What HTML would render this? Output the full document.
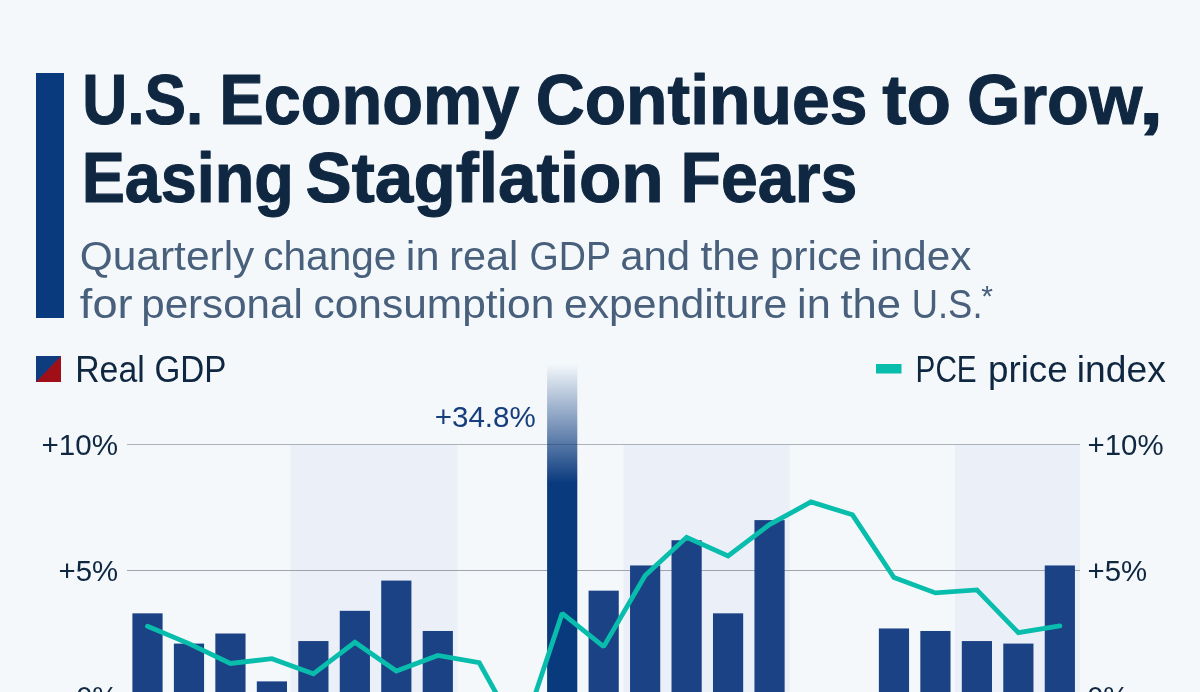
<!DOCTYPE html>
<html lang="en">
<head>
<meta charset="utf-8">
<title>U.S. Economy Continues to Grow, Easing Stagflation Fears</title>
<style>
html,body{margin:0;padding:0;background:#f4f8fb;}
body{width:1200px;height:692px;overflow:hidden;position:relative;font-family:"Liberation Sans",sans-serif;}
svg{position:absolute;left:0;top:0;display:block;}
text{font-family:"Liberation Sans",sans-serif;}
.t{font-weight:bold;font-size:71.2px;fill:#0f2741;stroke:#0f2741;stroke-width:1.1px;stroke-linejoin:round;}
.s{font-size:41.4px;fill:#48607c;}
.l{font-size:36.4px;fill:#0f2741;}
.a{font-size:30.0px;fill:#0f2741;}
.v{font-size:30.0px;fill:#163e7d;}
</style>
</head>
<body>
<svg width="1200" height="692" viewBox="0 0 1200 692">
<defs>
<linearGradient id="tall" gradientUnits="userSpaceOnUse" x1="0" y1="364" x2="0" y2="483">
<stop offset="0" stop-color="#0a3a7e" stop-opacity="0"/>
<stop offset="1" stop-color="#0a3a7e" stop-opacity="1"/>
</linearGradient>
</defs>
<rect x="0" y="0" width="1200" height="692" fill="#f4f8fb"/>
<!-- header accent bar -->
<rect x="36" y="73" width="28" height="245" fill="#0a3a7e"/>
<!-- bands -->
<rect x="290.5" y="444" width="167" height="260" fill="#ebf0f8"/>
<rect x="623.5" y="444" width="166.3" height="260" fill="#ebf0f8"/>
<rect x="955" y="444" width="125" height="260" fill="#ebf0f8"/>
<!-- grid -->
<rect x="127" y="444" width="953" height="1" fill="#adb2b9"/>
<rect x="127" y="570" width="953" height="1" fill="#9fa4ac"/>
<!-- legend swatches -->
<rect x="36" y="356" width="25" height="26" fill="#0f3c7f"/>
<polygon points="61,356 61,382 36,382" fill="#a00f17"/>
<rect x="876" y="364" width="25.5" height="9.5" fill="#08bdab"/>
<!-- text -->
<text class="t" transform="translate(82.28 123.8) scale(0.8743 1)">U.S.</text>
<text class="t" transform="translate(219.30 123.8) scale(0.9366 1)">Economy</text>
<text class="t" transform="translate(535.64 123.8) scale(0.9532 1)">Continues</text>
<text class="t" transform="translate(882.23 123.8) scale(1.0235 1)">to</text>
<text class="t" transform="translate(967.11 123.8) scale(0.9631 1)">Grow</text>
<text class="t" transform="translate(1138.75 123.8) scale(1.2500 1)">,</text>
<text class="t" transform="translate(81.68 201.7) scale(0.9085 1)">Easing</text>
<text class="t" transform="translate(305.55 201.7) scale(0.9737 1)">Stagflation</text>
<text class="t" transform="translate(680.58 201.7) scale(0.9300 1)">Fears</text>
<text class="s" transform="translate(79.65 270.0) scale(1.0262 1)">Quarterly</text>
<text class="s" transform="translate(263.29 270.0) scale(0.9800 1)">change</text>
<text class="s" transform="translate(405.87 270.0) scale(1.0467 1)">in</text>
<text class="s" transform="translate(449.25 270.0) scale(1.0000 1)">real</text>
<text class="s" transform="translate(529.58 270.0) scale(0.9076 1)">GDP</text>
<text class="s" transform="translate(620.23 270.0) scale(1.0116 1)">and</text>
<text class="s" transform="translate(700.48 270.0) scale(1.0318 1)">the</text>
<text class="s" transform="translate(769.67 270.0) scale(1.0294 1)">price</text>
<text class="s" transform="translate(870.45 270.0) scale(1.0183 1)">index</text>
<text class="s" transform="translate(79.85 318.0) scale(1.0915 1)">for</text>
<text class="s" transform="translate(141.20 318.0) scale(1.0179 1)">personal</text>
<text class="s" transform="translate(313.40 318.0) scale(1.0267 1)">consumption</text>
<text class="s" transform="translate(563.94 318.0) scale(1.0329 1)">expenditure</text>
<text class="s" transform="translate(797.12 318.0) scale(1.0467 1)">in</text>
<text class="s" transform="translate(840.46 318.0) scale(1.0545 1)">the</text>
<text class="s" transform="translate(911.74 318.0) scale(0.8789 1)">U.S.</text>
<text class="l" transform="translate(75.22 381.7) scale(0.9281 1)">Real</text>
<text class="l" transform="translate(154.40 381.7) scale(0.9116 1)">GDP</text>
<text class="l" transform="translate(915.55 381.7) scale(0.8171 1)">PCE</text>
<text class="l" transform="translate(987.93 381.7) scale(1.0107 1)">price</text>
<text class="l" transform="translate(1076.84 381.7) scale(1.0226 1)">index</text>
<text class="a" transform="translate(41.52 454.75) scale(0.9867 1)">+10%</text>
<text class="a" transform="translate(58.53 581.0) scale(0.9785 1)">+5%</text>
<text class="a" transform="translate(76.30 706.9) scale(0.9634 1)">0%</text>
<text class="a" transform="translate(1087.53 454.75) scale(0.9800 1)">+10%</text>
<text class="a" transform="translate(1087.53 581.0) scale(0.9785 1)">+5%</text>
<text class="a" transform="translate(1087.30 706.9) scale(0.9634 1)">0%</text>
<text class="v" transform="translate(434.72 426.5) scale(0.9850 1)">+34.8%</text>
<text x="981.3" y="305.6" font-size="30" fill="#48607c">*</text>
<!-- bars -->
<rect x="132.40" y="613.34" width="30.20" height="93.16" fill="#1c4286"/>
<rect x="173.87" y="643.58" width="30.20" height="62.92" fill="#1c4286"/>
<rect x="215.34" y="633.50" width="30.20" height="73.00" fill="#1c4286"/>
<rect x="256.81" y="681.38" width="30.20" height="25.12" fill="#1c4286"/>
<rect x="298.28" y="641.06" width="30.20" height="65.44" fill="#1c4286"/>
<rect x="339.75" y="610.82" width="30.20" height="95.68" fill="#1c4286"/>
<rect x="381.22" y="580.58" width="30.20" height="125.92" fill="#1c4286"/>
<rect x="422.69" y="630.98" width="30.20" height="75.52" fill="#1c4286"/>
<rect x="547.10" y="361" width="30.20" height="340" fill="url(#tall)"/>
<rect x="588.57" y="590.66" width="30.20" height="115.84" fill="#1c4286"/>
<rect x="630.04" y="565.46" width="30.20" height="141.04" fill="#1c4286"/>
<rect x="671.51" y="540.26" width="30.20" height="166.24" fill="#1c4286"/>
<rect x="712.98" y="613.34" width="30.20" height="93.16" fill="#1c4286"/>
<rect x="754.45" y="520.10" width="30.20" height="186.40" fill="#1c4286"/>
<rect x="878.86" y="628.46" width="30.20" height="78.04" fill="#1c4286"/>
<rect x="920.33" y="630.98" width="30.20" height="75.52" fill="#1c4286"/>
<rect x="961.80" y="641.06" width="30.20" height="65.44" fill="#1c4286"/>
<rect x="1003.27" y="643.58" width="30.20" height="62.92" fill="#1c4286"/>
<rect x="1044.74" y="565.46" width="30.20" height="141.04" fill="#1c4286"/>
<!-- line -->
<polyline points="147.50,626.19 188.97,643.58 230.44,663.49 271.91,658.70 313.38,673.82 354.85,642.32 396.32,671.05 437.79,655.42 479.26,662.73 520.73,737.58 562.20,613.34 603.67,646.60 645.14,575.54 686.61,537.24 728.08,555.88 769.55,524.64 811.02,501.96 852.49,514.81 893.96,577.56 935.43,592.93 976.90,589.90 1018.37,632.74 1059.84,625.94" fill="none" stroke="#08bdab" stroke-width="4.8" stroke-linejoin="miter" stroke-miterlimit="1.5" stroke-linecap="round"/>
</svg>
</body>
</html>
